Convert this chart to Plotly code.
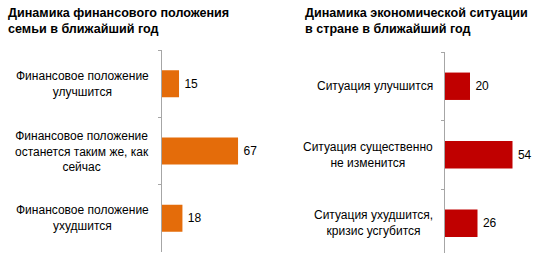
import plotly.graph_objects as go

W, H = 543, 253

title_left = "Динамика финансового положения<br>семьи в ближайший год"
title_right = "Динамика экономической ситуации<br>в стране в ближайший год"

cats_left = ["Финансовое положение<br>улучшится",
             "Финансовое положение<br>останется таким же, как<br>сейчас",
             "Финансовое положение<br>ухудшится"]
vals_left = [15, 67, 18]

cats_right = ["Ситуация улучшится",
              "Ситуация существенно<br>не изменится",
              "Ситуация ухудшится,<br>кризис усгубится"]
vals_right = [20, 54, 26]

ORANGE = "#E46C0A"
RED = "#C00000"
AXIS = "#A6A6A6"
FONT = "Liberation Sans, Arial, sans-serif"

def px(x):
    return x / W

def py(y):
    return 1 - y / H

fig = go.Figure()

fig.add_trace(go.Bar(
    y=cats_left, x=vals_left, orientation="h",
    marker=dict(color=ORANGE, line=dict(width=0)),
    texttemplate="\u2009%{x}", textposition="outside", cliponaxis=False,
    textfont=dict(size=12, color="#000000", family=FONT),
    xaxis="x", yaxis="y", showlegend=False, hoverinfo="skip",
))
fig.add_trace(go.Bar(
    y=cats_right, x=vals_right, orientation="h",
    marker=dict(color=RED, line=dict(width=0)),
    texttemplate="\u2009%{x}", textposition="outside", cliponaxis=False,
    textfont=dict(size=12, color="#000000", family=FONT),
    xaxis="x2", yaxis="y2", showlegend=False, hoverinfo="skip",
))

left_x0 = 162
left_scale = 1.135
left_max = 80
right_x0 = 445
right_scale = 1.25
right_max = 60

right_top = 52
cat_h_right = 68.5
right_bottom_val = -0.5 + (H - right_top) / cat_h_right

yaxis_common = dict(
    type="category", showticklabels=False, showgrid=False, zeroline=False,
    showline=True, linecolor=AXIS, linewidth=1,
    ticks="outside", ticklen=3, tickcolor=AXIS, tickson="boundaries",
)
xaxis_common = dict(visible=False, showgrid=False, zeroline=False)

fig.update_layout(
    width=W, height=H,
    margin=dict(l=0, r=0, t=0, b=0),
    paper_bgcolor="white", plot_bgcolor="white",
    bargap=0.6,
    font=dict(family=FONT, size=12, color="#000000"),
    xaxis=dict(xaxis_common, domain=[px(left_x0), px(left_x0 + left_scale * left_max)],
               range=[0, left_max], anchor="y"),
    yaxis=dict(yaxis_common, domain=[py(252), py(50)],
               categoryorder="array", categoryarray=cats_left,
               range=[2.5, -0.5], anchor="x"),
    xaxis2=dict(xaxis_common, domain=[px(right_x0), px(right_x0 + right_scale * right_max)],
                range=[0, right_max], anchor="y2"),
    yaxis2=dict(yaxis_common, domain=[0, py(right_top)],
                categoryorder="array", categoryarray=cats_right,
                range=[right_bottom_val, -0.5], anchor="x2"),
)

annotations = []
for c in cats_left:
    annotations.append(dict(
        x=px(150.5), xref="paper", xanchor="right", y=c, yref="y", yanchor="middle",
        text=c, showarrow=False, align="center",
        font=dict(size=12, family=FONT, color="#000000"),
    ))
for c in cats_right:
    annotations.append(dict(
        x=px(435), xref="paper", xanchor="right", y=c, yref="y2", yanchor="middle",
        text=c, showarrow=False, align="center",
        font=dict(size=12, family=FONT, color="#000000"),
    ))
annotations.append(dict(
    x=px(6), xref="paper", xanchor="left", y=py(4), yref="paper", yanchor="top",
    text="<b>" + title_left + "</b>", showarrow=False, align="left",
    font=dict(size=12.6, family=FONT, color="#000000"),
))
annotations.append(dict(
    x=px(303), xref="paper", xanchor="left", y=py(4), yref="paper", yanchor="top",
    text="<b>" + title_right + "</b>", showarrow=False, align="left",
    font=dict(size=12.6, family=FONT, color="#000000"),
))
fig.update_layout(annotations=annotations)

fig.write_html("out.html")
